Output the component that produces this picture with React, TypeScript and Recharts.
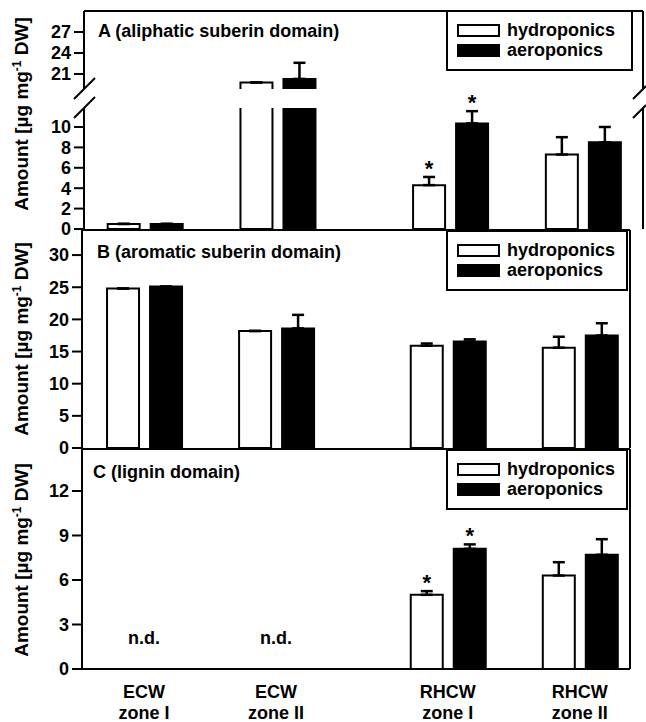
import React from 'react';
import {
  BarChart, Bar, XAxis, YAxis, ErrorBar, ReferenceLine, ReferenceDot, Legend, LabelList,
} from 'recharts';

const FONT = '"Liberation Sans", Arial, Helvetica, sans-serif';

const zones = [['ECW', 'zone I'], ['ECW', 'zone II'], ['RHCW', 'zone I'], ['RHCW', 'zone II']];
const zonePos = [1, 2, 3.3, 4.3];
const seriesOrder = ['hydroponics', 'aeroponics'];

// A - aliphatic suberin domain
const aliHydro = [0.5, 19.8, 4.3, 7.3];
const aliHydroSd = [0, 0, 0.8, 1.7];
const aliAero = [0.5, 20.3, 10.35, 8.5];
const aliAeroSd = [0, 2.3, 1.2, 1.5];
const aliSig = [false, false, true, false];

// B - aromatic suberin domain
const aroHydro = [24.8, 18.2, 15.9, 15.6];
const aroHydroSd = [0, 0, 0.35, 1.7];
const aroAero = [25.1, 18.6, 16.55, 17.5];
const aroAeroSd = [0, 2.1, 0.35, 1.9];
const aroSig = [false, false, false, false];

// C - lignin domain (not detected in ECW)
const ligHydro = [null, null, 5.0, 6.3];
const ligHydroSd = [null, null, 0.25, 0.9];
const ligAero = [null, null, 8.1, 7.7];
const ligAeroSd = [null, null, 0.3, 1.05];
const ligSig = [false, false, true, false];
const ligNotDetected = [true, true, false, false];

type Row = {
  pos: number;
  hydro: number | null;
  aero: number | null;
  hydroErr: number[] | null;
  aeroErr: number[] | null;
  star: string | null;
};

function makeRows(h: (number | null)[], hSd: (number | null)[], a: (number | null)[], aSd: (number | null)[], sig: boolean[]): Row[] {
  return zonePos.map((pos, i) => ({
    pos,
    hydro: h[i],
    aero: a[i],
    hydroErr: hSd[i] == null ? null : [0, hSd[i] as number],
    aeroErr: aSd[i] == null ? null : [0, aSd[i] as number],
    star: sig[i] ? '*' : null,
  }));
}

const aliRows = makeRows(aliHydro, aliHydroSd, aliAero, aliAeroSd, aliSig);
const aroRows = makeRows(aroHydro, aroHydroSd, aroAero, aroAeroSd, aroSig);
const ligRows = makeRows(ligHydro, ligHydroSd, ligAero, ligAeroSd, ligSig);

const black = '#000';
const axisLine = { stroke: black, strokeWidth: 2 };
const textStyle = { fill: black, fontSize: 18, fontWeight: 700, fontFamily: FONT };

// asterisk placed above the error bar cap (null bars are skipped, so index the drawn ones)
const starLabel = (rows: Row[], key: 'hydro' | 'aero', errKey: 'hydroErr' | 'aeroErr') => {
  const drawn = rows.filter((r) => r[key] != null);
  return (p: any) => {
    const vb = p.viewBox ?? p;
    const row = drawn[p.index];
    if (!row || !row.star) return null;
    const h = Math.abs(vb.height);
    const v = row[key] as number;
    const e = row[errKey] ? (row[errKey] as number[])[1] : 0;
    const top = vb.y - (e * h) / v;
    return (
      <text x={vb.x + vb.width / 2} y={top - 1} textAnchor="middle" fill={black}
        fontSize={22} fontWeight={700} fontFamily={FONT}>*</text>
    );
  };
};

const renderZoneTick = (p: any) => {
  const i = zonePos.indexOf(p.payload.value);
  if (i < 0) return null;
  return (
    <text x={p.x} y={p.y} textAnchor="middle" {...textStyle}>
      <tspan x={p.x} dy={29}>{zones[i][0]}</tspan>
      <tspan x={p.x} dy={21}>{zones[i][1]}</tspan>
    </text>
  );
};

const makeLegendBox = (width: number) => ({ payload }: any) => {
  const items = [...(payload || [])].sort(
    (a: any, b: any) => seriesOrder.indexOf(a.value) - seriesOrder.indexOf(b.value),
  );
  return (
    <div style={{
      width, height: 61, border: '2px solid #000', background: '#fff', boxSizing: 'border-box',
      padding: '8px 0 0 9px', fontFamily: FONT, fontWeight: 700, fontSize: 18, color: black,
    }}>
      {items.map((entry: any) => (
        <div key={entry.value} style={{ display: 'flex', alignItems: 'center', height: 20 }}>
          <span style={{
            width: 43, height: 13, border: '2px solid #000', boxSizing: 'border-box',
            background: entry.color, marginRight: 7, display: 'inline-block',
          }} />
          <span>{entry.value}</span>
        </div>
      ))}
    </div>
  );
};

type PanelProps = {
  rows: Row[];
  top: number;
  height: number;
  clipHeight?: number;
  mTop: number;
  mBottom: number;
  mRight: number;
  axisWidth: number;
  yDomain: [number, number];
  yTicks: number[];
  xDomain: [number, number];
  baseLine?: boolean;
  topLine?: boolean;
  xLabels?: boolean;
  stars?: boolean;
  legendTop?: number;
  legendWidth?: number;
  nd?: number[];
};

function Panel(props: PanelProps) {
  const {
    rows, top, height, clipHeight, mTop, mBottom, mRight, axisWidth, yDomain, yTicks, xDomain,
    baseLine, topLine, xLabels, stars, legendTop, legendWidth = 182, nd,
  } = props;
  return (
    <div style={{
      position: 'absolute', left: 0, top, width: 646,
      height: clipHeight ?? height, overflow: clipHeight ? 'hidden' : 'visible',
    }}>
      <BarChart width={646} height={height} data={rows} barSize={32} barGap={11}
        margin={{ top: mTop, right: mRight, bottom: mBottom, left: 0 }}>
        <XAxis type="number" dataKey="pos" domain={xDomain} allowDataOverflow ticks={zonePos} interval={0}
          hide={!baseLine} tick={xLabels ? renderZoneTick : false} tickLine={false} tickSize={0} tickMargin={0}
          height={xLabels ? 53 : 0} axisLine={axisLine} />
        <YAxis type="number" domain={yDomain} allowDataOverflow ticks={yTicks} interval={0} width={axisWidth}
          tickSize={10} tickMargin={3} tick={textStyle}
          tickLine={axisLine} axisLine={axisLine} />
        {topLine && <ReferenceLine y={yDomain[1]} stroke={black} strokeWidth={2} />}
        <ReferenceLine x={xDomain[1]} stroke={black} strokeWidth={2} />
        {legendTop != null && (
          <Legend layout="horizontal" verticalAlign="middle" align="center" content={makeLegendBox(legendWidth)}
            wrapperStyle={{ left: 446, top: legendTop, width: legendWidth }} />
        )}
        <Bar dataKey="hydro" name="hydroponics" fill="#fff" stroke={black} strokeWidth={2} isAnimationActive={false}>
          <ErrorBar dataKey="hydroErr" direction="y" width={6} stroke={black} strokeWidth={2.5} />
          {stars && <LabelList dataKey="star" content={starLabel(rows, 'hydro', 'hydroErr')} />}
        </Bar>
        <Bar dataKey="aero" name="aeroponics" fill={black} stroke={black} strokeWidth={2} isAnimationActive={false}>
          <ErrorBar dataKey="aeroErr" direction="y" width={6} stroke={black} strokeWidth={2.5} />
          {stars && <LabelList dataKey="star" content={starLabel(rows, 'aero', 'aeroErr')} />}
        </Bar>
        {(nd || []).map((p) => (
          <ReferenceDot key={p} x={p} y={2.1} r={0} fill="none" stroke="none"
            label={{ value: 'n.d.', position: 'center', ...textStyle }} />
        ))}
      </BarChart>
    </div>
  );
}

const yLabel = (cy: number) => (
  <text transform={`translate(28,${cy}) rotate(-90)`} textAnchor="middle" {...textStyle} fontSize={19}>
    Amount [µg mg<tspan dy={-7} fontSize={12}>-1</tspan><tspan dy={7}> DW]</tspan>
  </text>
);

export default function App() {
  const xA: [number, number] = [0.54, 4.75];
  const xBC: [number, number] = [0.53, 4.68];
  return (
    <div style={{ position: 'absolute', left: 0, top: 0, width: 646, height: 722, background: '#fff' }}>
      {/* A, upper segment of the broken axis (bar bottoms cut off below y=89) */}
      <Panel rows={aliRows} top={0} height={98} clipHeight={89} mTop={11} mBottom={6} mRight={3} axisWidth={84}
        yDomain={[18.43, 30]} yTicks={[21, 24, 27]} xDomain={xA} topLine legendTop={10} legendWidth={187} />
      {/* A, lower segment */}
      <Panel rows={aliRows} top={80} height={161} mTop={28} mBottom={12} mRight={3} axisWidth={84}
        yDomain={[0, 11.86]} yTicks={[0, 2, 4, 6, 8, 10]} xDomain={xA} baseLine stars />
      <Panel rows={aroRows} top={222} height={238} mTop={8} mBottom={12} mRight={16} axisWidth={82}
        yDomain={[0, 33.9]} yTicks={[0, 5, 10, 15, 20, 25, 30]} xDomain={xBC} baseLine topLine legendTop={8} />
      <Panel rows={ligRows} top={441} height={281} mTop={8} mBottom={0} mRight={16} axisWidth={82}
        yDomain={[0, 14.83]} yTicks={[0, 3, 6, 9, 12]} xDomain={xBC} baseLine topLine xLabels stars
        legendTop={8} nd={zonePos.filter((_, i) => ligNotDetected[i])} />

      <svg width={646} height={722} style={{ position: 'absolute', left: 0, top: 0, pointerEvents: 'none' }}>
        <g stroke={black} strokeWidth={2}>
          <line x1={74} y1={99} x2={95} y2={78} />
          <line x1={74} y1={118} x2={95} y2={97} />
          <line x1={633} y1={99} x2={646} y2={86} />
          <line x1={633} y1={118} x2={646} y2={105} />
        </g>
        <text x={98} y={37} {...textStyle}>A (aliphatic suberin domain)</text>
        <text x={97} y={258} {...textStyle}>B (aromatic suberin domain)</text>
        <text x={93} y={478} {...textStyle}>C (lignin domain)</text>
        {yLabel(114)}
        {yLabel(339)}
        {yLabel(560)}
      </svg>
    </div>
  );
}
